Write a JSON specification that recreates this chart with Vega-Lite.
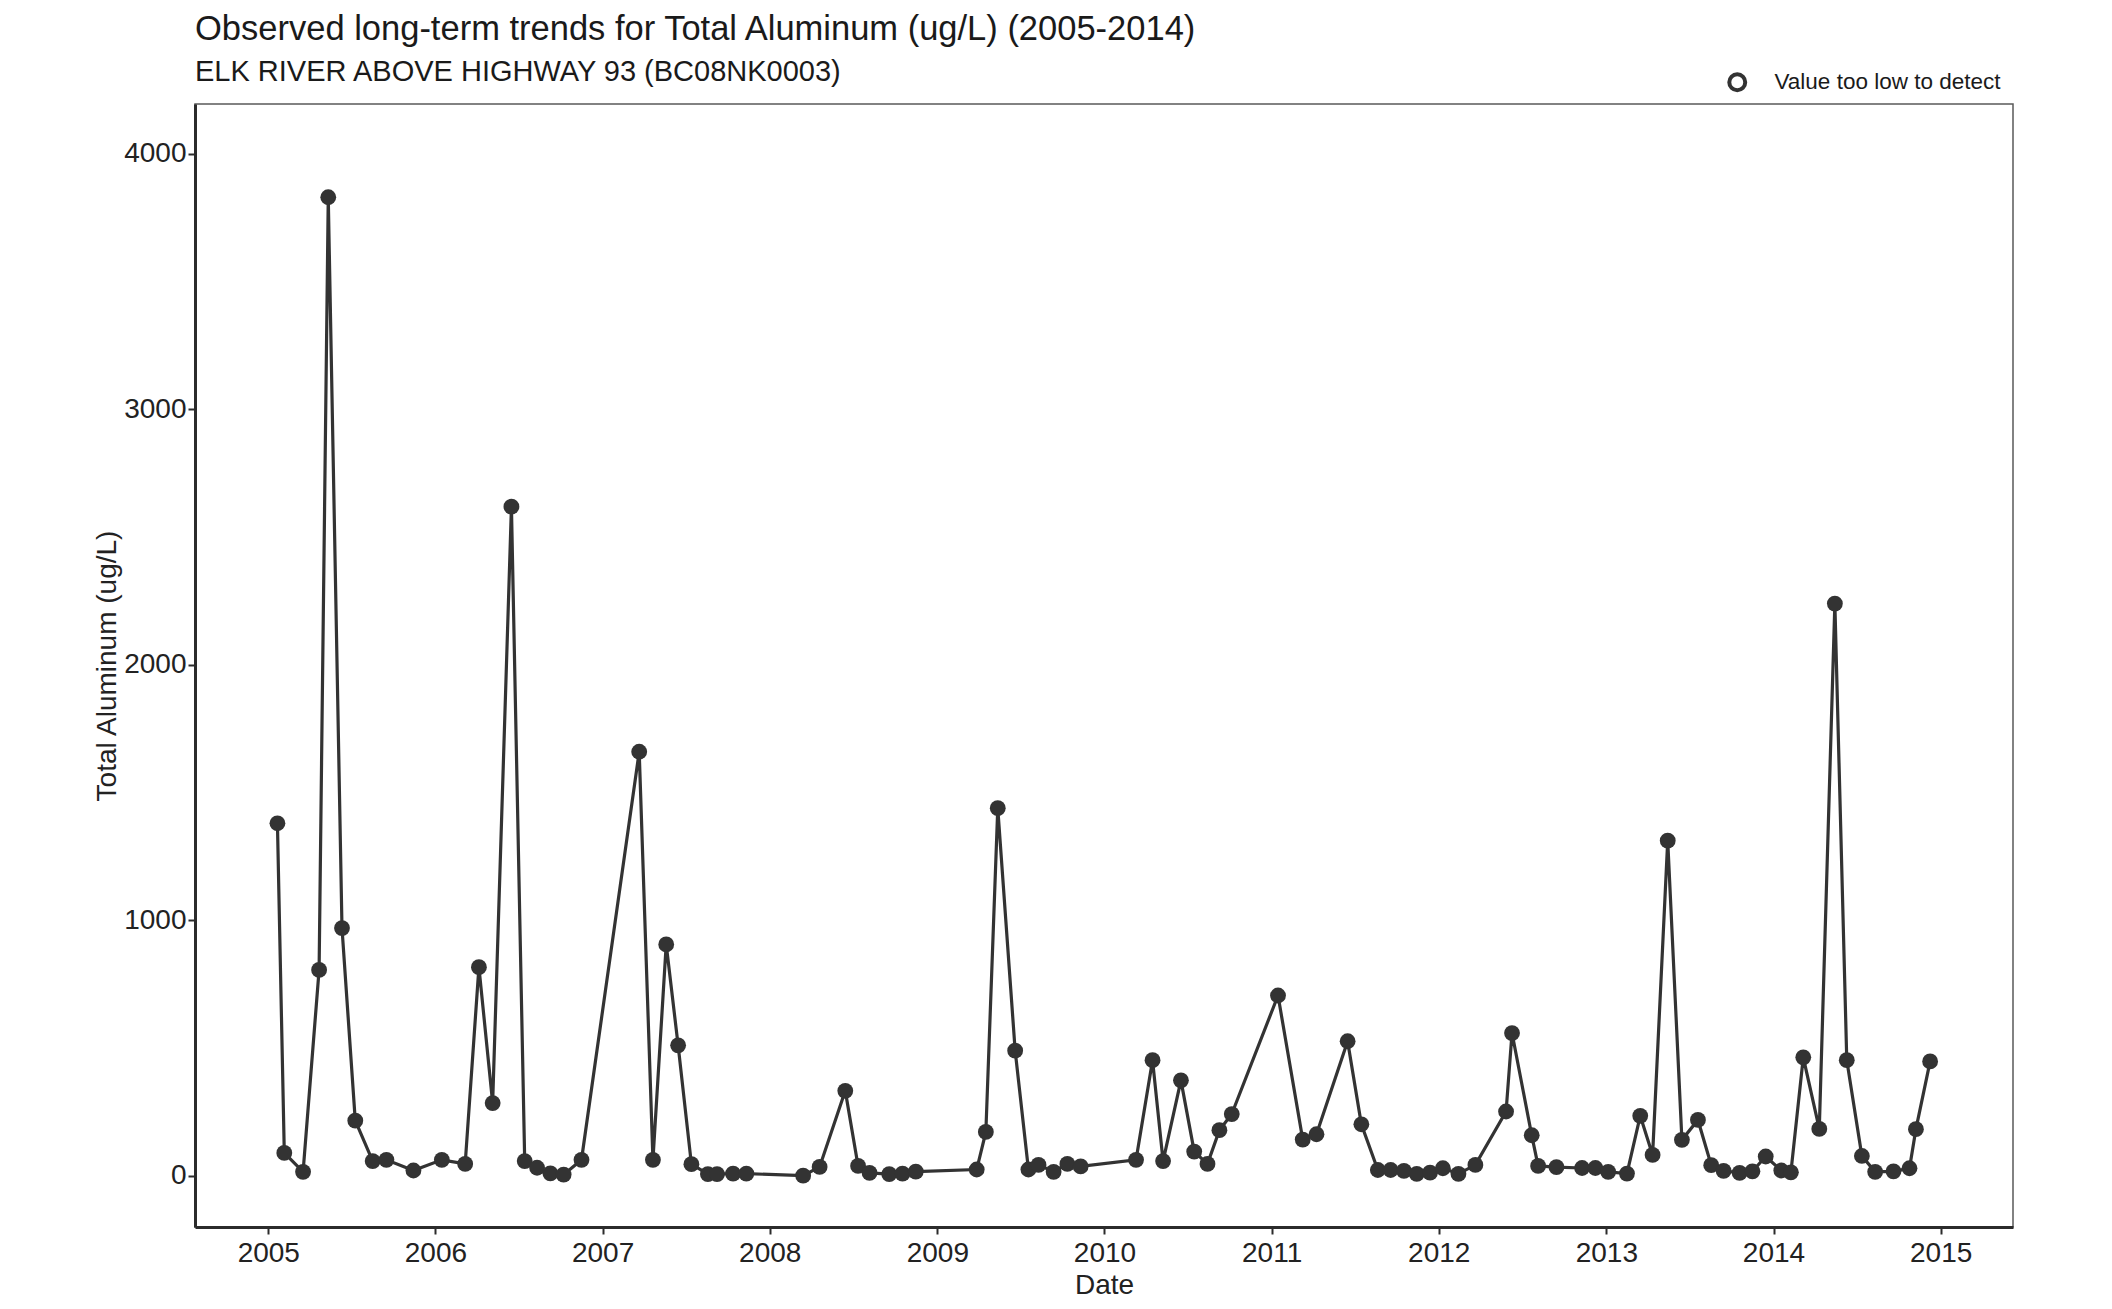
{
  "$schema": "https://vega.github.io/schema/vega-lite/v6.json",
  "autosize": "none",
  "width": 1818,
  "height": 1123,
  "padding": {"left": 195, "top": 104, "right": 98, "bottom": 82},
  "background": "white",
  "config": {
    "font": "Liberation Sans",
    "view": {"stroke": "#5a5a5a", "strokeWidth": 1.5},
    "axis": {
      "grid": false,
      "domainColor": "#2b2b2b",
      "domainWidth": 3,
      "tickColor": "#2b2b2b",
      "tickWidth": 2,
      "tickSize": 7,
      "labelFont": "Liberation Sans",
      "labelFontSize": 28,
      "labelColor": "#222222",
      "titleFont": "Liberation Sans",
      "titleFontSize": 28,
      "titleFontWeight": "normal",
      "titleColor": "#222222"
    }
  },
  "title": {
    "text": "Observed long-term trends for Total Aluminum (ug/L) (2005-2014)",
    "subtitle": "ELK RIVER ABOVE HIGHWAY 93 (BC08NK0003)",
    "anchor": "start",
    "frame": "group",
    "font": "Liberation Sans",
    "fontSize": 34.5,
    "fontWeight": "normal",
    "color": "#1a1a1a",
    "subtitleFont": "Liberation Sans",
    "subtitleFontSize": 29,
    "subtitleColor": "#1a1a1a",
    "subtitlePadding": 11,
    "offset": -17
  },
  "datasets": {
    "obs": [
      {"Date": "2005-01-21", "Value": 1380},
      {"Date": "2005-02-05", "Value": 90},
      {"Date": "2005-03-18", "Value": 16},
      {"Date": "2005-04-22", "Value": 806},
      {"Date": "2005-05-12", "Value": 3830},
      {"Date": "2005-06-11", "Value": 970},
      {"Date": "2005-07-10", "Value": 216},
      {"Date": "2005-08-17", "Value": 58},
      {"Date": "2005-09-16", "Value": 63},
      {"Date": "2005-11-14", "Value": 21},
      {"Date": "2006-01-15", "Value": 63},
      {"Date": "2006-03-07", "Value": 47},
      {"Date": "2006-04-06", "Value": 817},
      {"Date": "2006-05-06", "Value": 285},
      {"Date": "2006-06-16", "Value": 2619},
      {"Date": "2006-07-15", "Value": 58},
      {"Date": "2006-08-11", "Value": 32},
      {"Date": "2006-09-09", "Value": 10},
      {"Date": "2006-10-08", "Value": 5},
      {"Date": "2006-11-16", "Value": 63},
      {"Date": "2007-03-22", "Value": 1660},
      {"Date": "2007-04-21", "Value": 63},
      {"Date": "2007-05-20", "Value": 906},
      {"Date": "2007-06-15", "Value": 511},
      {"Date": "2007-07-14", "Value": 46},
      {"Date": "2007-08-19", "Value": 7},
      {"Date": "2007-09-08", "Value": 7},
      {"Date": "2007-10-13", "Value": 9},
      {"Date": "2007-11-11", "Value": 9},
      {"Date": "2008-03-14", "Value": 1},
      {"Date": "2008-04-19", "Value": 35},
      {"Date": "2008-06-14", "Value": 333},
      {"Date": "2008-07-12", "Value": 39},
      {"Date": "2008-08-06", "Value": 12},
      {"Date": "2008-09-18", "Value": 7},
      {"Date": "2008-10-17", "Value": 9},
      {"Date": "2008-11-15", "Value": 17},
      {"Date": "2009-03-28", "Value": 25},
      {"Date": "2009-04-17", "Value": 172},
      {"Date": "2009-05-13", "Value": 1439},
      {"Date": "2009-06-20", "Value": 490},
      {"Date": "2009-07-19", "Value": 25},
      {"Date": "2009-08-10", "Value": 43},
      {"Date": "2009-09-12", "Value": 16},
      {"Date": "2009-10-12", "Value": 47},
      {"Date": "2009-11-10", "Value": 37},
      {"Date": "2010-03-11", "Value": 63},
      {"Date": "2010-04-16", "Value": 453},
      {"Date": "2010-05-09", "Value": 58},
      {"Date": "2010-06-17", "Value": 374},
      {"Date": "2010-07-16", "Value": 95},
      {"Date": "2010-08-14", "Value": 47},
      {"Date": "2010-09-09", "Value": 179},
      {"Date": "2010-10-06", "Value": 242},
      {"Date": "2011-01-15", "Value": 706},
      {"Date": "2011-03-10", "Value": 142},
      {"Date": "2011-04-09", "Value": 163},
      {"Date": "2011-06-16", "Value": 527},
      {"Date": "2011-07-16", "Value": 202},
      {"Date": "2011-08-21", "Value": 23},
      {"Date": "2011-09-18", "Value": 23},
      {"Date": "2011-10-17", "Value": 20},
      {"Date": "2011-11-14", "Value": 8},
      {"Date": "2011-12-13", "Value": 13},
      {"Date": "2012-01-10", "Value": 30},
      {"Date": "2012-02-13", "Value": 8},
      {"Date": "2012-03-21", "Value": 43},
      {"Date": "2012-05-27", "Value": 252},
      {"Date": "2012-06-09", "Value": 559},
      {"Date": "2012-07-22", "Value": 159},
      {"Date": "2012-08-05", "Value": 39},
      {"Date": "2012-09-14", "Value": 34},
      {"Date": "2012-11-09", "Value": 31},
      {"Date": "2012-12-08", "Value": 31},
      {"Date": "2013-01-05", "Value": 16},
      {"Date": "2013-02-15", "Value": 9},
      {"Date": "2013-03-16", "Value": 235},
      {"Date": "2013-04-12", "Value": 82},
      {"Date": "2013-05-15", "Value": 1312},
      {"Date": "2013-06-15", "Value": 141},
      {"Date": "2013-07-20", "Value": 219},
      {"Date": "2013-08-18", "Value": 42},
      {"Date": "2013-09-14", "Value": 20},
      {"Date": "2013-10-19", "Value": 12},
      {"Date": "2013-11-16", "Value": 18},
      {"Date": "2013-12-15", "Value": 76},
      {"Date": "2014-01-18", "Value": 21},
      {"Date": "2014-02-08", "Value": 14},
      {"Date": "2014-03-07", "Value": 464},
      {"Date": "2014-04-11", "Value": 184},
      {"Date": "2014-05-15", "Value": 2240},
      {"Date": "2014-06-10", "Value": 453},
      {"Date": "2014-07-13", "Value": 78},
      {"Date": "2014-08-11", "Value": 16},
      {"Date": "2014-09-20", "Value": 18},
      {"Date": "2014-10-25", "Value": 30},
      {"Date": "2014-11-08", "Value": 183},
      {"Date": "2014-12-09", "Value": 448}
    ],
    "legendrows": [
      {"Flag": "Value too low to detect"}
    ]
  },
  "layer": [
    {
      "data": {"name": "obs"},
      "mark": {"type": "line", "color": "#333333", "strokeWidth": 3.2},
      "encoding": {
        "x": {
          "field": "Date",
          "type": "temporal",
          "scale": {"domain": [{"year": 2004, "month": 7, "date": 25}, {"year": 2015, "month": 6, "date": 8}], "nice": false},
          "axis": {
            "title": "Date",
            "values": [
              {"year": 2005, "month": 1, "date": 1},
              {"year": 2006, "month": 1, "date": 1},
              {"year": 2007, "month": 1, "date": 1},
              {"year": 2008, "month": 1, "date": 1},
              {"year": 2009, "month": 1, "date": 1},
              {"year": 2010, "month": 1, "date": 1},
              {"year": 2011, "month": 1, "date": 1},
              {"year": 2012, "month": 1, "date": 1},
              {"year": 2013, "month": 1, "date": 1},
              {"year": 2014, "month": 1, "date": 1},
              {"year": 2015, "month": 1, "date": 1}
            ],
            "format": "%Y",
            "labelFlush": false,
            "labelPadding": 5,
            "titlePadding": 4
          }
        },
        "y": {
          "field": "Value",
          "type": "quantitative",
          "scale": {"domain": [-200, 4195], "nice": false, "zero": false},
          "axis": {
            "title": "Total Aluminum (ug/L)",
            "values": [0, 1000, 2000, 3000, 4000],
            "format": "d",
            "labelPadding": 2,
            "titlePadding": 2
          }
        }
      }
    },
    {
      "data": {"name": "obs"},
      "mark": {"type": "point", "filled": true, "color": "#333333", "size": 250, "opacity": 1, "shape": "circle"},
      "encoding": {
        "x": {"field": "Date", "type": "temporal"},
        "y": {"field": "Value", "type": "quantitative"}
      }
    },
    {
      "data": {"name": "legendrows"},
      "mark": {"type": "point", "shape": "circle", "filled": false, "opacity": 0},
      "encoding": {
        "shape": {
          "field": "Flag",
          "type": "nominal",
          "scale": {"range": ["circle"]},
          "legend": {
            "title": null,
            "orient": "none",
            "legendX": 1531,
            "legendY": -33,
            "padding": 0,
            "symbolOpacity": 1,
            "symbolSize": 254,
            "symbolStrokeWidth": 4,
            "symbolStrokeColor": "#333333",
            "symbolFillColor": "white",
            "labelFont": "Liberation Sans",
            "labelFontSize": 22.5,
            "labelLimit": 0,
            "labelColor": "#1a1a1a",
            "labelOffset": 26
          }
        }
      }
    }
  ]
}
